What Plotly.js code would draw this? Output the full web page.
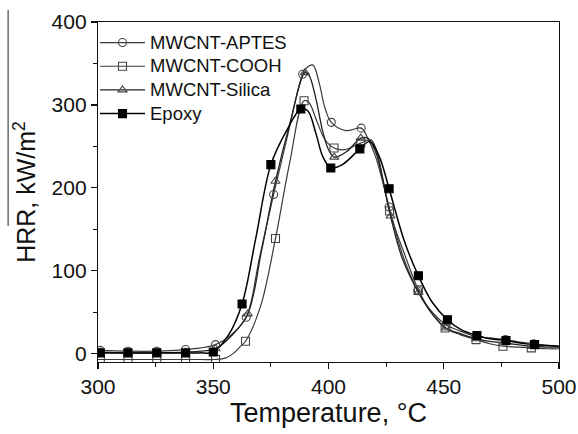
<!DOCTYPE html>
<html><head><meta charset="utf-8">
<script src="https://cdn.plot.ly/plotly-3.0.1.min.js"></script>
<style>html,body{margin:0;padding:0;background:#fff}#chart{width:578px;height:434px}</style>
</head><body><div id="chart"></div>
<script>
// Series names
const seriesNames = ["MWCNT-APTES", "MWCNT-COOH", "MWCNT-Silica", "Epoxy"];

// Temperature (°C) / HRR (kW/m2) at the plotted markers
const aptesMarkT = [301, 313, 325.5, 338, 351, 364.3, 376.2, 388.8, 401.2, 414.2, 426.3, 438.7, 451, 464, 476.8, 489];
const aptesMarkV = [4, 3, 3, 5, 11, 44, 192, 337, 279, 272, 177, 76, 35, 21, 17, 12];
const coohMarkT = [301, 313, 325.5, 338, 351, 364, 377, 389.4, 402.4, 414, 426.5, 439, 450.6, 464, 475.7, 488];
const coohMarkV = [-7, -7, -7, -7, -7, 15, 139, 305, 248, 254, 172, 77, 31, 17, 9, 7];
const silicaMarkT = [301, 313, 325.5, 338, 351, 365, 377, 389.8, 402.5, 414, 426.9, 439, 451, 464, 476, 488.5];
const silicaMarkV = [2, 1, 1, 2, 6, 48, 208, 339, 237, 260, 166, 74, 31, 18, 13, 9];
const epoxyMarkT = [301, 313, 325.5, 338, 350, 362.5, 375, 388, 401, 413.6, 426.3, 439, 451.6, 464.4, 477, 489.4];
const epoxyMarkV = [1, 1, 1, 1, 2, 60, 228, 295, 224, 247, 199, 94, 41, 22, 16, 11];

// Additional curve points between markers
const aptesCurveT = [300, 344.5, 357.5, 370, 382.5, 391, 393.3, 396, 398.5, 407.5, 417, 420.5, 432, 445, 457.5, 470, 483, 495, 500];
const aptesCurveV = [4, 7, 22, 115, 266, 346, 348, 326, 296, 269, 260, 237, 120, 50, 27, 19, 14, 10, 9];
const coohCurveT = [300, 344.5, 355.5, 359, 361.5, 370.5, 383, 391.5, 395, 398.5, 407, 418.5, 421.5, 433, 445, 457, 470, 482, 495, 500];
const coohCurveV = [-7, -7, -5, 1, 8, 57, 228, 303, 280, 258, 246, 258, 238, 120, 48, 23, 12, 8, 6, 6];
const silicaCurveT = [300, 344.5, 358, 371, 383, 391.5, 394.5, 397.5, 400, 408, 417, 420.5, 432, 445, 457.5, 470, 482, 495, 500];
const silicaCurveV = [2, 3, 22, 125, 275, 336, 308, 268, 246, 244, 260, 243, 115, 48, 24, 15, 11, 8, 8];
const epoxyCurveT = [300, 344, 356.5, 368.5, 382, 391, 394.5, 397.5, 406, 418, 422, 433, 445, 457.5, 470, 483, 495, 500];
const epoxyCurveV = [1, 1, 22, 140, 270, 293, 266, 238, 228, 256, 238, 135, 62, 29, 18, 13, 10, 9];

function merge(t1, v1, t2, v2) {
  const pts = [];
  t1.forEach((t, i) => pts.push([t, v1[i]]));
  t2.forEach((t, i) => pts.push([t, v2[i]]));
  pts.sort((a, b) => a[0] - b[0]);
  return {x: pts.map(p => p[0]), y: pts.map(p => p[1])};
}

const series = [
  {name: seriesNames[0], mt: aptesMarkT, mv: aptesMarkV, ct: aptesCurveT, cv: aptesCurveV,
   symbol: "circle-open", lc: "#3a3a3a", lw: 1.2, mc: "#444"},
  {name: seriesNames[1], mt: coohMarkT, mv: coohMarkV, ct: coohCurveT, cv: coohCurveV,
   symbol: "square-open", lc: "#3a3a3a", lw: 1.2, mc: "#444"},
  {name: seriesNames[2], mt: silicaMarkT, mv: silicaMarkV, ct: silicaCurveT, cv: silicaCurveV,
   symbol: "triangle-up-open", lc: "#222", lw: 1.3, mc: "#444"},
  {name: seriesNames[3], mt: epoxyMarkT, mv: epoxyMarkV, ct: epoxyCurveT, cv: epoxyCurveV,
   symbol: "square", lc: "#000", lw: 1.5, mc: "#000"}
];

const traces = [];
series.forEach((s, i) => {
  const c = merge(s.mt, s.mv, s.ct, s.cv);
  traces.push({x: c.x, y: c.y, mode: "lines", type: "scatter", showlegend: false,
    legendgroup: "g" + i, hoverinfo: "skip",
    line: {color: s.lc, width: s.lw, shape: "spline", smoothing: 1}});
});
series.forEach((s, i) => {
  traces.push({x: s.mt, y: s.mv, mode: "markers", type: "scatter", showlegend: false,
    legendgroup: "g" + i,
    marker: {symbol: s.symbol, size: 8, color: s.mc, line: {color: s.mc, width: 1.1}}});
});
series.forEach((s, i) => {
  traces.push({x: [null], y: [null], mode: "lines+markers", type: "scatter",
    name: '<span style="font-size:18.5px">' + s.name + '</span>',
    legendgroup: "g" + i,
    line: {color: s.lc, width: s.lw},
    marker: {symbol: s.symbol, size: 8, color: s.mc, line: {color: s.mc, width: 1.1}}});
});

const font = "Liberation Sans, Arial, sans-serif";
const layout = {
  width: 578, height: 434,
  margin: {l: 98, r: 19, t: 22, b: 72},
  paper_bgcolor: "#fff", plot_bgcolor: "#fff",
  font: {family: font, color: "#111"},
  showlegend: true,
  legend: {x: -0.0065, y: 0.989, xanchor: "left", yanchor: "top", bgcolor: "rgba(0,0,0,0)",
    borderwidth: 0, itemwidth: 45, font: {size: 15.9, family: font, color: "#111"}, traceorder: "normal"},
  xaxis: {range: [300, 500], showgrid: false, zeroline: false,
    showline: true, linecolor: "#111", linewidth: 1.2, mirror: true,
    ticks: "outside", ticklen: 6, tickwidth: 1.2, tickcolor: "#111",
    tick0: 300, dtick: 50,
    minor: {ticks: "outside", ticklen: 4, tickwidth: 1, tickcolor: "#111", dtick: 25, showgrid: false},
    tickfont: {size: 21, family: font, color: "#111"},
    title: {text: "Temperature, °C", font: {size: 27, family: font, color: "#111"}, standoff: 5}},
  yaxis: {range: [-10, 400], showgrid: false, zeroline: false,
    showline: true, linecolor: "#111", linewidth: 1.2, mirror: true,
    ticks: "outside", ticklen: 6, tickwidth: 1.2, tickcolor: "#111",
    tick0: 0, dtick: 100,
    minor: {ticks: "outside", ticklen: 4, tickwidth: 1, tickcolor: "#111", dtick: 50, showgrid: false},
    tickfont: {size: 21, family: font, color: "#111"},
    title: {text: "HRR, kW/m<sup>2</sup>", font: {size: 25, family: font, color: "#111"}, standoff: 8}},
  shapes: [{type: "line", xref: "paper", yref: "paper", x0: -0.195, x1: -0.195, y0: 0.4, y1: 1.035,
    line: {color: "#222", width: 1}}]
};

Plotly.newPlot("chart", traces, layout, {displayModeBar: false, staticPlot: true});
</script>
</body></html>
